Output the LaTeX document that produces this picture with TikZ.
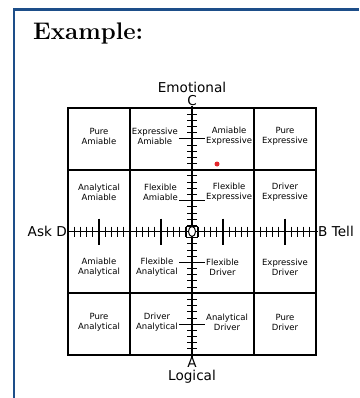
\documentclass[tikz,border=0pt]{standalone}
\usepackage{fontspec}
\newfontfamily\dvsans{DejaVu Sans}
\usepackage{xcolor}
\definecolor{cFrame}{HTML}{1D4E89}
\definecolor{cDot}{HTML}{E3262B}
\usetikzlibrary{positioning,calc,shapes.geometric}
\tikzset{
  node-cell/.style={align=center,inner sep=0pt,
    font=\dvsans\fontsize{8.5}{10}\selectfont},
  node-axis/.style={inner sep=0pt,font=\dvsans\fontsize{13.6}{14}\selectfont},
  grid-line/.style={line width=1.4pt,draw=black},
  axis-line/.style={line width=1.4pt,draw=black},
  tick-minor/.style={line width=0.9pt,draw=black},
  tick-major/.style={line width=1.4pt,draw=black},
}

\begin{document}
\begin{tikzpicture}[x=1pt,y=-1pt]
  \useasboundingbox (0,0) rectangle (359,398);
  % frame and title
  \draw[cFrame,line width=2.5pt] (13.8,398) -- (13.8,9.5) -- (359,9.5);
  \node[anchor=base west,inner sep=0pt,
    font=\fontsize{24}{28}\selectfont\bfseries] (title) at (33,40) {Example:};
  % grid
  \coordinate (o) at (192,231.5);
  \draw[line width=1.3pt] (68,108) rectangle (316,355);
  \foreach \x in {130,254} \draw[grid-line] (\x,108) -- (\x,355);
  \foreach \y in {170,293} \draw[grid-line] (68,\y) -- (316,\y);
  % axis labels
  \node[node-axis,anchor=south]   (C)     at (192,106) {C};
  \node[node-axis,above=2pt of C] (emo)   {Emotional};
  \node[node-axis,anchor=north]   (A)     at (192,357.5) {A};
  \node[node-axis,below=2pt of A] (logic) {Logical};
  \node[node-axis,anchor=east]    (D)     at (67,231.5) {Ask D};
  \node[node-axis,anchor=west]    (B)     at (318,231.5) {B Tell};
  % axes with ticks
  \draw[axis-line] (D.east) -- (B.west);
  \draw[axis-line] (C.south) -- (A.north);
  \foreach \i in {-20,...,20} {
    \draw[tick-minor] ($(o)+(\i*6.2,-5)$) -- ($(o)+(\i*6.2,5)$);
    \draw[tick-minor] ($(o)+(-5,\i*6.18)$) -- ($(o)+(5,\i*6.18)$);
  }
  \foreach \i in {-15,-5,5,15} {
    \draw[tick-major] ($(o)+(\i*6.2,-13)$) -- ($(o)+(\i*6.2,13)$);
    \draw[tick-major] ($(o)+(-13,\i*6.2)$) -- ($(o)+(13,\i*6.2)$);
  }
  \node[draw,line width=0.7pt,minimum size=11pt,inner sep=0pt] (ctr) at (o) {};
  \node[draw,ellipse,fill=white,line width=1pt,minimum width=7pt,
    minimum height=10pt,inner sep=0pt] (ctr-dot) at (o) {};
  % cells
  \node[node-cell]            (pure-ami)  at (99,136.5)  {Pure\\Amiable};
  \node[node-cell,anchor=east] (exp-ami)  at (178,136.5) {Expressive\\Amiable};
  \node[node-cell,anchor=west] (ami-exp)  at (206,136.5) {Amiable\\Expressive};
  \node[node-cell]            (pure-exp)  at (285,136.5) {Pure\\Expressive};
  \node[node-cell]            (ana-ami)   at (99,192.5)  {Analytical\\Amiable};
  \node[node-cell,anchor=east] (flex-ami) at (178,192.5) {Flexible\\Amiable};
  \node[node-cell,anchor=west] (flex-exp) at (206,192.5) {Flexible\\Expressive};
  \node[node-cell]            (drv-exp)   at (285,192.5) {Driver\\Expressive};
  \node[node-cell]            (ami-ana)   at (99,267)    {Amiable\\Analytical};
  \node[node-cell,anchor=east] (flex-ana) at (178,267)   {Flexible\\Analytical};
  \node[node-cell,anchor=west] (flex-drv) at (206,267)   {Flexible\\Driver};
  \node[node-cell]            (exp-drv)   at (285,267)   {Expressive\\Driver};
  \node[node-cell]            (pure-ana)  at (99,322.5)  {Pure\\Analytical};
  \node[node-cell,anchor=east] (drv-ana)  at (178,322.5) {Driver\\Analytical};
  \node[node-cell,anchor=west] (ana-drv)  at (206,322.5) {Analytical\\Driver};
  \node[node-cell]            (pure-drv)  at (285,322.5) {Pure\\Driver};
  % marker
  \node[circle,fill=cDot,minimum size=5pt,inner sep=0pt] (mark) at (217,164) {};
\end{tikzpicture}
\end{document}
